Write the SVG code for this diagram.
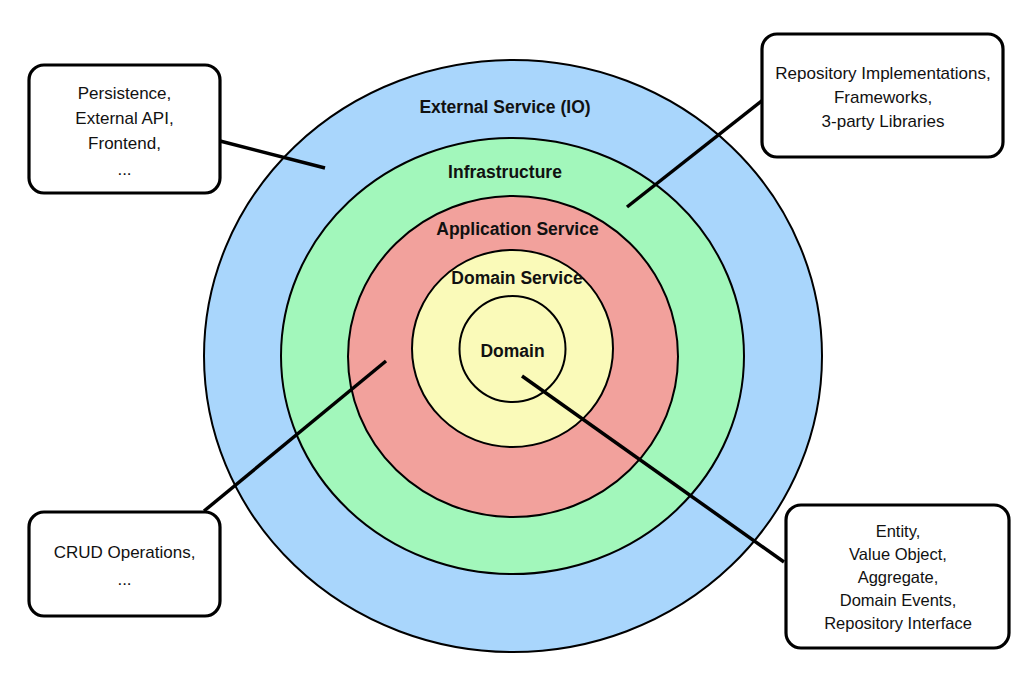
<svg xmlns="http://www.w3.org/2000/svg" width="1024" height="688" viewBox="0 0 1024 688">
<style>
.ring{stroke:#000;stroke-width:2}
.title{font-family:"Liberation Sans",Arial,sans-serif;font-size:17.5px;font-weight:bold;fill:#111;text-anchor:middle}
.box{fill:#fff;stroke:#000;stroke-width:3.2}
.lbl{font-family:"Liberation Sans",Arial,sans-serif;font-size:17px;fill:#111;text-anchor:middle}
.sm{font-size:16.5px}
.conn{stroke:#000;stroke-width:3.5;stroke-linecap:butt;fill:none}
</style>
<rect width="1024" height="688" fill="#fff"/>
<g id="external-service">
<ellipse class="ring" cx="513" cy="356" rx="309" ry="296" fill="#a9d6fc"/>
<text class="title" x="505" y="113">External Service (IO)</text>
</g>
<g id="infrastructure">
<ellipse class="ring" cx="512.5" cy="356" rx="231.5" ry="218" fill="#a2f7bb"/>
<text class="title" x="505" y="178">Infrastructure</text>
</g>
<g id="application-service">
<ellipse class="ring" cx="513" cy="356.5" rx="165" ry="160.5" fill="#f2a19c"/>
<text class="title" x="517.5" y="235">Application Service</text>
</g>
<g id="domain-service">
<ellipse class="ring" cx="512.5" cy="348.5" rx="100.5" ry="98.5" fill="#fafab9"/>
<text class="title" x="517" y="284">Domain Service</text>
</g>
<g id="domain">
<circle class="ring" cx="512.5" cy="349" r="53" fill="#fafab9"/>
<text class="title" x="512.5" y="357">Domain</text>
</g>
<g id="connectors">
<line class="conn" x1="220" y1="141" x2="325" y2="168"/>
<line class="conn" x1="764" y1="99" x2="627" y2="207"/>
<line class="conn" x1="386" y1="361" x2="204" y2="511"/>
<line class="conn" x1="522" y1="376" x2="784" y2="562"/>
</g>
<g id="box-external">
<rect class="box" x="29" y="65" width="191" height="128" rx="15"/>
<text class="lbl" x="124.5" y="99">Persistence,</text>
<text class="lbl" x="124.5" y="124">External API,</text>
<text class="lbl" x="124.5" y="149">Frontend,</text>
<text class="lbl" x="124.5" y="175">...</text>
</g>
<g id="box-infrastructure">
<rect class="box" x="762" y="34" width="241" height="123" rx="15"/>
<text class="lbl" x="883" y="79">Repository Implementations,</text>
<text class="lbl" x="883" y="103">Frameworks,</text>
<text class="lbl" x="883" y="127">3-party Libraries</text>
</g>
<g id="box-application">
<rect class="box" x="29" y="512" width="191" height="104" rx="15"/>
<text class="lbl" x="124.5" y="558">CRUD Operations,</text>
<text class="lbl" x="124.5" y="585">...</text>
</g>
<g id="box-domain">
<rect class="box" x="786" y="505" width="223" height="143" rx="15"/>
<text class="lbl sm" x="898" y="537">Entity,</text>
<text class="lbl sm" x="898" y="560">Value Object,</text>
<text class="lbl sm" x="898" y="583">Aggregate,</text>
<text class="lbl sm" x="898" y="606">Domain Events,</text>
<text class="lbl sm" x="898" y="629">Repository Interface</text>
</g>
</svg>
